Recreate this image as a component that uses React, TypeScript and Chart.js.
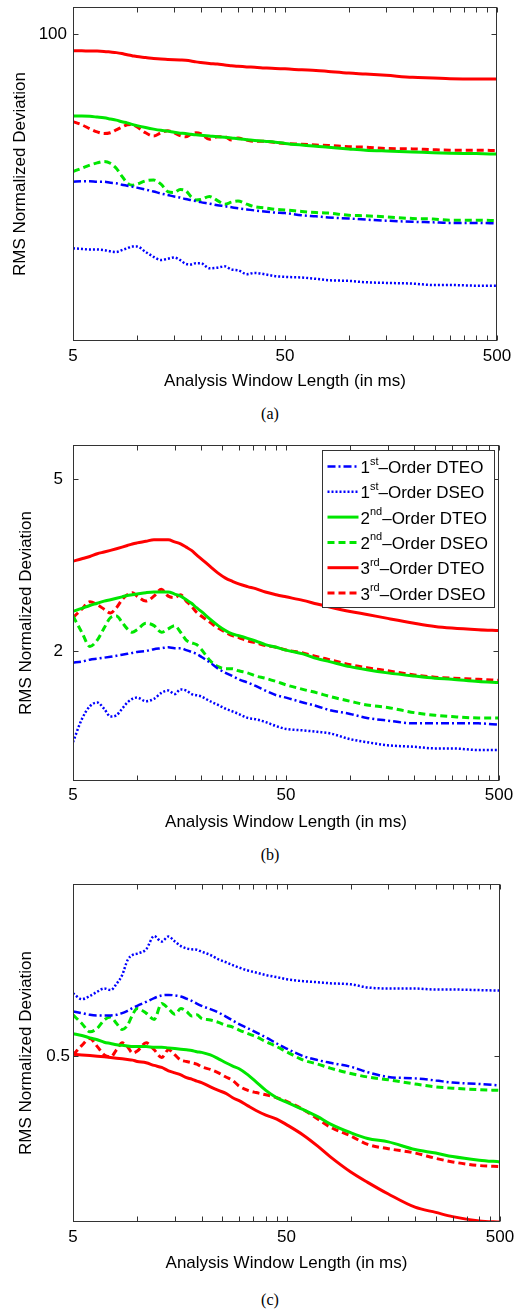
import React, { useEffect, useRef } from "react";
import { Chart, registerables } from "chart.js";

Chart.register(...registerables);

// ---------- data ----------
const WINDOW_MS = [5, 5.5, 6, 6.5, 7, 7.5, 8, 8.5, 9, 9.5, 10, 11, 12, 13, 14, 15, 16, 17, 18, 19, 20, 22, 24, 26, 28, 30, 33, 36, 40, 45, 50, 60, 70, 80, 100, 120, 150, 200, 250, 300, 400, 500];
const X_TICKS = [5, 10, 15, 20, 25, 30, 35, 40, 45, 50, 100, 150, 200, 250, 300, 350, 400, 450, 500];
const X_TICK_LABELS = [5, 50, 500];

const SERIES_LABELS = ["1st–Order DTEO", "1st–Order DSEO", "2nd–Order DTEO", "2nd–Order DSEO", "3rd–Order DTEO", "3rd–Order DSEO"];
const LEGEND_NUM = ["1", "1", "2", "2", "3", "3"];
const LEGEND_SUP = ["st", "st", "nd", "nd", "rd", "rd"];
const LEGEND_REST = ["–Order DTEO", "–Order DSEO", "–Order DTEO", "–Order DSEO", "–Order DTEO", "–Order DSEO"];

// panel (a)
const A_Y_RANGE = [34, 110];
const A_Y_TICKS = [100];
const A_DTEO1 = [59.5, 59.6, 59.6, 59.5, 59.5, 59.3, 59.2, 58.9, 58.7, 58.5, 58.3, 57.9, 57.5, 57.1, 56.8, 56.5, 56.3, 56.0, 55.8, 55.6, 55.4, 55.1, 54.8, 54.6, 54.4, 54.2, 54.0, 53.8, 53.6, 53.4, 53.3, 52.9, 52.7, 52.5, 52.3, 52.1, 51.9, 51.7, 51.6, 51.5, 51.5, 51.4];
const A_DSEO1 = [47.1, 47.0, 46.9, 46.9, 46.8, 46.6, 46.5, 46.8, 47.1, 47.4, 47.4, 46.5, 45.7, 45.2, 45.4, 45.6, 45.2, 44.6, 44.5, 44.7, 44.7, 43.9, 44.0, 44.2, 43.7, 43.6, 43.0, 43.2, 43.0, 42.7, 42.6, 42.5, 42.3, 42.1, 42.0, 41.8, 41.7, 41.6, 41.4, 41.4, 41.3, 41.3];
const A_DTEO2 = [75.0, 75.0, 74.9, 74.7, 74.5, 74.2, 73.9, 73.5, 73.2, 72.8, 72.5, 72.0, 71.6, 71.3, 71.1, 70.8, 70.6, 70.5, 70.3, 70.2, 70.1, 69.9, 69.7, 69.6, 69.4, 69.2, 69.0, 68.8, 68.6, 68.4, 68.1, 67.7, 67.4, 67.2, 66.8, 66.5, 66.3, 66.1, 65.9, 65.8, 65.7, 65.6];
const A_DSEO2 = [61.7, 62.4, 63.1, 63.6, 63.9, 63.5, 62.4, 60.7, 59.3, 58.8, 59.0, 59.7, 59.9, 59.0, 57.5, 57.3, 57.9, 57.7, 56.5, 55.8, 55.9, 56.5, 55.7, 55.0, 55.4, 55.6, 55.0, 54.5, 54.3, 54.0, 53.9, 53.6, 53.4, 53.3, 52.9, 52.8, 52.6, 52.3, 52.2, 52.0, 52.0, 51.9];
const A_DTEO3 = [94.3, 94.3, 94.2, 94.2, 94.1, 93.9, 93.7, 93.4, 93.0, 92.7, 92.4, 92.1, 91.8, 91.6, 91.5, 91.4, 91.3, 91.2, 91.0, 90.7, 90.5, 90.2, 90.0, 89.7, 89.5, 89.3, 89.1, 89.0, 88.8, 88.6, 88.5, 88.2, 88.0, 87.7, 87.2, 86.9, 86.5, 85.9, 85.7, 85.5, 85.4, 85.4];
const A_DSEO3 = [73.5, 72.7, 71.7, 70.9, 70.5, 70.7, 71.4, 72.1, 72.7, 72.8, 72.2, 70.7, 69.9, 70.7, 71.2, 70.7, 70.0, 69.7, 70.3, 70.7, 70.5, 69.1, 69.7, 69.7, 68.9, 69.4, 68.9, 68.6, 68.6, 68.3, 68.1, 67.9, 67.7, 67.6, 67.3, 67.2, 66.9, 66.8, 66.6, 66.5, 66.5, 66.4];

// panel (b)
const B_Y_RANGE = [1, 6];
const B_Y_TICKS = [2, 5];
const B_DTEO1 = [1.88, 1.89, 1.91, 1.92, 1.93, 1.94, 1.95, 1.96, 1.97, 1.98, 1.99, 2.00, 2.02, 2.03, 2.04, 2.03, 2.03, 2.01, 1.99, 1.97, 1.94, 1.88, 1.82, 1.78, 1.75, 1.72, 1.69, 1.66, 1.62, 1.58, 1.56, 1.52, 1.49, 1.46, 1.43, 1.40, 1.38, 1.36, 1.36, 1.36, 1.36, 1.35];
const B_DSEO1 = [1.23, 1.39, 1.49, 1.52, 1.47, 1.41, 1.42, 1.47, 1.52, 1.55, 1.56, 1.53, 1.55, 1.60, 1.62, 1.59, 1.63, 1.62, 1.59, 1.58, 1.57, 1.53, 1.50, 1.47, 1.45, 1.43, 1.40, 1.39, 1.37, 1.34, 1.32, 1.31, 1.30, 1.29, 1.25, 1.23, 1.21, 1.20, 1.19, 1.19, 1.18, 1.18];
const B_DTEO2 = [2.47, 2.51, 2.55, 2.58, 2.61, 2.63, 2.65, 2.67, 2.69, 2.70, 2.71, 2.73, 2.74, 2.74, 2.74, 2.71, 2.68, 2.63, 2.58, 2.52, 2.47, 2.37, 2.29, 2.23, 2.19, 2.17, 2.14, 2.11, 2.07, 2.04, 2.01, 1.97, 1.92, 1.89, 1.84, 1.81, 1.78, 1.75, 1.73, 1.72, 1.70, 1.69];
const B_DSEO2 = [2.41, 2.21, 2.05, 2.12, 2.26, 2.39, 2.41, 2.33, 2.25, 2.21, 2.24, 2.32, 2.29, 2.21, 2.25, 2.29, 2.21, 2.12, 2.09, 2.07, 2.02, 1.90, 1.84, 1.82, 1.82, 1.80, 1.78, 1.75, 1.73, 1.70, 1.67, 1.63, 1.60, 1.57, 1.53, 1.50, 1.48, 1.44, 1.42, 1.41, 1.40, 1.40];
const B_DTEO3 = [3.23, 3.27, 3.31, 3.36, 3.39, 3.42, 3.45, 3.48, 3.51, 3.54, 3.56, 3.59, 3.62, 3.62, 3.62, 3.58, 3.54, 3.48, 3.42, 3.34, 3.27, 3.14, 3.03, 2.95, 2.90, 2.86, 2.82, 2.79, 2.74, 2.70, 2.67, 2.62, 2.57, 2.53, 2.47, 2.43, 2.38, 2.32, 2.28, 2.26, 2.24, 2.23];
const B_DSEO3 = [2.39, 2.50, 2.60, 2.56, 2.50, 2.45, 2.52, 2.63, 2.70, 2.73, 2.68, 2.61, 2.68, 2.78, 2.68, 2.66, 2.70, 2.61, 2.54, 2.46, 2.41, 2.33, 2.26, 2.21, 2.17, 2.15, 2.11, 2.09, 2.06, 2.04, 2.01, 1.98, 1.94, 1.91, 1.86, 1.83, 1.80, 1.76, 1.74, 1.73, 1.72, 1.71];

// panel (c)
const C_Y_RANGE = [0.3, 0.85];
const C_Y_TICKS = [0.5];
const C_DTEO1 = [0.574, 0.571, 0.568, 0.567, 0.567, 0.567, 0.568, 0.571, 0.575, 0.580, 0.584, 0.591, 0.598, 0.603, 0.604, 0.603, 0.601, 0.597, 0.593, 0.588, 0.584, 0.578, 0.572, 0.565, 0.558, 0.552, 0.545, 0.538, 0.530, 0.520, 0.512, 0.500, 0.494, 0.490, 0.484, 0.476, 0.469, 0.467, 0.464, 0.461, 0.459, 0.457];
const C_DSEO1 = [0.607, 0.596, 0.602, 0.610, 0.616, 0.613, 0.625, 0.642, 0.672, 0.683, 0.686, 0.695, 0.724, 0.712, 0.723, 0.712, 0.702, 0.697, 0.695, 0.694, 0.690, 0.683, 0.674, 0.668, 0.662, 0.657, 0.651, 0.647, 0.642, 0.638, 0.634, 0.630, 0.628, 0.626, 0.624, 0.618, 0.616, 0.616, 0.614, 0.614, 0.613, 0.612];
const C_DTEO2 = [0.536, 0.533, 0.529, 0.526, 0.522, 0.520, 0.518, 0.517, 0.516, 0.515, 0.515, 0.515, 0.514, 0.514, 0.513, 0.512, 0.511, 0.510, 0.509, 0.507, 0.506, 0.502, 0.496, 0.490, 0.485, 0.481, 0.472, 0.462, 0.450, 0.440, 0.434, 0.424, 0.415, 0.406, 0.395, 0.388, 0.384, 0.375, 0.371, 0.367, 0.363, 0.361];
const C_DSEO2 = [0.568, 0.553, 0.539, 0.545, 0.559, 0.564, 0.553, 0.543, 0.550, 0.568, 0.579, 0.571, 0.560, 0.588, 0.579, 0.569, 0.579, 0.574, 0.566, 0.568, 0.562, 0.559, 0.555, 0.550, 0.547, 0.542, 0.536, 0.531, 0.523, 0.515, 0.507, 0.494, 0.488, 0.482, 0.474, 0.469, 0.465, 0.459, 0.455, 0.453, 0.451, 0.450];
const C_DTEO3 = [0.503, 0.502, 0.501, 0.500, 0.499, 0.498, 0.497, 0.496, 0.495, 0.494, 0.492, 0.490, 0.486, 0.483, 0.478, 0.475, 0.472, 0.468, 0.466, 0.463, 0.461, 0.455, 0.450, 0.446, 0.440, 0.436, 0.429, 0.423, 0.417, 0.412, 0.405, 0.392, 0.379, 0.367, 0.350, 0.339, 0.327, 0.314, 0.309, 0.305, 0.301, 0.300];
const C_DSEO3 = [0.502, 0.517, 0.528, 0.515, 0.502, 0.499, 0.510, 0.521, 0.515, 0.505, 0.508, 0.521, 0.510, 0.498, 0.510, 0.502, 0.494, 0.492, 0.490, 0.488, 0.484, 0.480, 0.475, 0.469, 0.464, 0.456, 0.450, 0.447, 0.444, 0.440, 0.435, 0.424, 0.412, 0.402, 0.391, 0.381, 0.376, 0.371, 0.365, 0.361, 0.357, 0.356];

// ---------- styles ----------
const FONT = "'Liberation Sans', Arial, sans-serif";
const SERIES_COLORS = ["#0000ff", "#0000ff", "#00e600", "#00e600", "#ff0000", "#ff0000"];
const SERIES_DASH = [[8, 3, 2, 3], [2, 2], [], [7, 4], [], [7, 4]];
const SERIES_WIDTH = [2.5, 2.5, 3, 3, 3, 3];

type PanelCfg = {
  top: number; height: number; padTop: number; padRight: number; xAxisH: number;
  xTickPad: number; xTitlePad: number; yTickPad: number; yTitlePad: number;
  yRange: number[]; yTicks: number[]; series: number[][]; legend: boolean;
  caption: string; captionY: number;
};

const PANELS: PanelCfg[] = [
  { top: 0, height: 396, padTop: 7, padRight: 18, xAxisH: 55, xTickPad: 5, xTitlePad: 4, yTickPad: 6, yTitlePad: 10,
    yRange: A_Y_RANGE, yTicks: A_Y_TICKS, series: [A_DTEO1, A_DSEO1, A_DTEO2, A_DSEO2, A_DTEO3, A_DSEO3], legend: false, caption: "(a)", captionY: 414 },
  { top: 438, height: 399, padTop: 7, padRight: 16, xAxisH: 56, xTickPad: 4, xTitlePad: 4, yTickPad: 10, yTitlePad: 16,
    yRange: B_Y_RANGE, yTicks: B_Y_TICKS, series: [B_DTEO1, B_DSEO1, B_DTEO2, B_DSEO2, B_DTEO3, B_DSEO3], legend: true, caption: "(b)", captionY: 855 },
  { top: 877, height: 401, padTop: 7, padRight: 15, xAxisH: 56, xTickPad: 5, xTitlePad: 4, yTickPad: 3, yTitlePad: 16,
    yRange: C_Y_RANGE, yTicks: C_Y_TICKS, series: [C_DTEO1, C_DSEO1, C_DTEO2, C_DSEO2, C_DTEO3, C_DSEO3], legend: false, caption: "(c)", captionY: 1300 },
];

// ---------- plugins ----------
const framePlugin = {
  id: "matFrame",
  afterDraw(chart: any, _args: any, opts: any) {
    const { ctx, chartArea: a, scales } = chart;
    ctx.save();
    ctx.strokeStyle = "#333";
    ctx.lineWidth = 1;
    ctx.setLineDash([]);
    const l = Math.round(a.left) + 0.5, r = Math.round(a.right) - 0.5;
    const t = Math.round(a.top) + 0.5, b = Math.round(a.bottom) - 0.5;
    ctx.strokeRect(l, t, r - l, b - t);
    const L = 5;
    ctx.beginPath();
    scales.x.ticks.forEach((tk: any) => {
      const p = Math.round(scales.x.getPixelForValue(tk.value)) + 0.5;
      ctx.moveTo(p, b); ctx.lineTo(p, b - L);
      ctx.moveTo(p, t); ctx.lineTo(p, t + L);
    });
    scales.y.ticks.forEach((tk: any) => {
      const p = Math.round(scales.y.getPixelForValue(tk.value)) + 0.5;
      ctx.moveTo(l, p); ctx.lineTo(l + L, p);
      ctx.moveTo(r, p); ctx.lineTo(r - L, p);
    });
    ctx.stroke();

    if (opts && opts.legend) {
      const w = 172, h = 157;
      const left = Math.round(a.right - 5 - w) + 0.5;
      const top = Math.round(a.top + 5) + 0.5;
      ctx.fillStyle = "#ffffff";
      ctx.fillRect(left, top, w, h);
      ctx.strokeStyle = "#333";
      ctx.strokeRect(left, top, w, h);
      chart.data.datasets.forEach((ds: any, i: number) => {
        const y = top + 16 + i * 25.3;
        ctx.beginPath();
        ctx.setLineDash(ds.borderDash || []);
        ctx.strokeStyle = ds.borderColor;
        ctx.lineWidth = ds.borderWidth;
        ctx.moveTo(left + 5, y);
        ctx.lineTo(left + 36, y);
        ctx.stroke();
        ctx.setLineDash([]);
        ctx.fillStyle = "#000";
        ctx.textAlign = "left";
        ctx.textBaseline = "middle";
        let x = left + 38;
        ctx.font = `17px ${FONT}`;
        ctx.fillText(LEGEND_NUM[i], x, y + 2);
        x += ctx.measureText(LEGEND_NUM[i]).width;
        ctx.font = `11px ${FONT}`;
        ctx.fillText(LEGEND_SUP[i], x, y - 5);
        x += ctx.measureText(LEGEND_SUP[i]).width;
        ctx.font = `17px ${FONT}`;
        ctx.fillText(LEGEND_REST[i], x, y + 2);
      });
    }
    ctx.restore();
  },
};

function Panel({ cfg }: { cfg: PanelCfg }) {
  const ref = useRef<HTMLCanvasElement | null>(null);
  useEffect(() => {
    if (!ref.current) return;
    const chart = new Chart(ref.current, {
      type: "line",
      data: {
        labels: WINDOW_MS,
        datasets: cfg.series.map((vals, i) => ({
          label: SERIES_LABELS[i],
          data: vals,
          borderColor: SERIES_COLORS[i],
          backgroundColor: SERIES_COLORS[i],
          borderDash: SERIES_DASH[i],
          borderWidth: SERIES_WIDTH[i],
          borderCapStyle: "butt",
          pointRadius: 0,
          fill: false,
          cubicInterpolationMode: "monotone",
        })),
      },
      options: {
        responsive: false,
        animation: false,
        devicePixelRatio: 1,
        events: [],
        layout: { padding: { top: cfg.padTop, right: cfg.padRight, left: 0, bottom: 0 } },
        plugins: {
          legend: { display: false },
          tooltip: { enabled: false },
          matFrame: { legend: cfg.legend },
        } as any,
        scales: {
          x: {
            type: "logarithmic",
            min: 5,
            max: 500,
            grid: { display: false, drawTicks: false },
            border: { display: false },
            afterBuildTicks: (s: any) => { s.ticks = X_TICKS.map((v) => ({ value: v })); },
            afterFit: (s: any) => { s.height = cfg.xAxisH; s.paddingLeft = 0; s.paddingRight = 0; },
            ticks: {
              autoSkip: false, maxRotation: 0, minRotation: 0, padding: cfg.xTickPad, color: "#000",
              font: { family: FONT, size: 17, lineHeight: 1.2 },
              callback: (v: any) => (X_TICK_LABELS.includes(Number(v)) ? String(v) : ""),
            },
            title: {
              display: true, text: "Analysis Window Length (in ms)", color: "#000",
              font: { family: FONT, size: 17, lineHeight: 1.2 },
              padding: { top: 0, bottom: cfg.xTitlePad },
            },
          },
          y: {
            type: "logarithmic",
            min: cfg.yRange[0],
            max: cfg.yRange[1],
            grid: { display: false, drawTicks: false },
            border: { display: false },
            afterBuildTicks: (s: any) => { s.ticks = cfg.yTicks.map((v) => ({ value: v })); },
            afterFit: (s: any) => { s.width = 73; s.paddingTop = 0; s.paddingBottom = 0; },
            ticks: {
              padding: cfg.yTickPad, color: "#000",
              font: { family: FONT, size: 17, lineHeight: 1.2 },
              callback: (v: any) => String(v),
            },
            title: {
              display: true, text: "RMS Normalized Deviation", color: "#000",
              font: { family: FONT, size: 17, lineHeight: 1.2 },
              padding: { top: cfg.yTitlePad, bottom: 0 },
            },
          },
        },
      } as any,
      plugins: [framePlugin as any],
    });
    return () => chart.destroy();
  }, [cfg]);

  return (
    <>
      <canvas
        ref={ref}
        width={515}
        height={cfg.height}
        style={{ position: "absolute", left: 0, top: cfg.top, width: 515, height: cfg.height, display: "block" }}
      />
      <div
        style={{
          position: "absolute", left: 240, top: cfg.captionY - 10, width: 60, height: 20,
          textAlign: "center", fontFamily: "'Liberation Serif', 'Times New Roman', serif",
          fontSize: 16, lineHeight: "20px", color: "#000",
        }}
      >
        {cfg.caption}
      </div>
    </>
  );
}

export default function App() {
  return (
    <div style={{ position: "absolute", left: 0, top: 0, width: 515, height: 1312, background: "#fff", overflow: "hidden" }}>
      {PANELS.map((p) => (
        <Panel key={p.caption} cfg={p} />
      ))}
    </div>
  );
}
